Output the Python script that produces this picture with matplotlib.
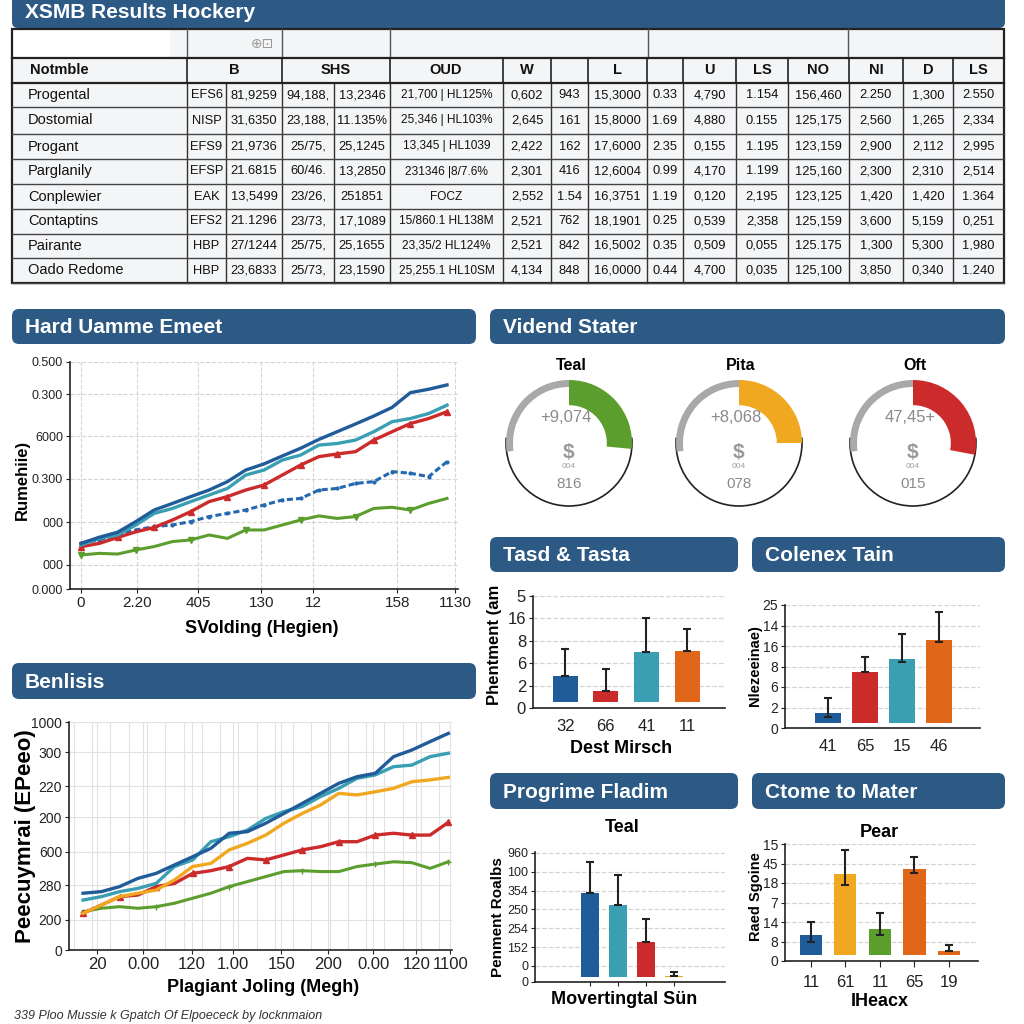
import matplotlib.pyplot as plt
from matplotlib.patches import FancyBboxPatch, Rectangle, Wedge, Arc

plt.rcParams['font.family'] = ['Liberation Sans', 'DejaVu Sans']

HEAD = '#2d5a84'
NAVY = '#1f5c99'
TEAL = '#3a9fb3'
RED = '#cc2b2b'
GREEN = '#5c9e2e'
ORANGE = '#e0661a'
YELLOW = '#f0a820'
BLUE = '#2468b0'

# ---------------- data ----------------
title = 'XSMB Results Hockery'
table_header = ['Notmble', 'B', 'SHS', 'OUD', 'W', '', 'L', '', 'U', 'LS', 'NO', 'NI', 'D', 'LS']
row_names = ['Progental', 'Dostomial', 'Progant', 'Parglanily', 'Conplewier', 'Contaptins', 'Pairante', 'Oado Redome']
table_rows = [
    ['EFS6', '81,9259', '94,188,', '13,2346', '21,700 | HL125%', '0,602', '943', '15,3000', '0.33', '4,790', '1.154', '156,460', '2.250', '1,300', '2.550'],
    ['NISP', '31,6350', '23,188,', '11.135%', '25,346 | HL103%', '2,645', '161', '15,8000', '1.69', '4,880', '0.155', '125,175', '2,560', '1,265', '2,334'],
    ['EFS9', '21,9736', '25/75,', '25,1245', '13,345 | HL1039', '2,422', '162', '17,6000', '2.35', '0,155', '1.195', '123,159', '2,900', '2,112', '2,995'],
    ['EFSP', '21.6815', '60/46.', '13,2850', '231346 |8/7.6%', '2,301', '416', '12,6004', '0.99', '4,170', '1.199', '125,160', '2,300', '2,310', '2,514'],
    ['EAK', '13,5499', '23/26,', '251851', 'FOCZ', '2,552', '1.54', '16,3751', '1.19', '0,120', '2,195', '123,125', '1,420', '1,420', '1.364'],
    ['EFS2', '21.1296', '23/73,', '17,1089', '15/860.1 HL138M', '2,521', '762', '18,1901', '0.25', '0,539', '2,358', '125,159', '3,600', '5,159', '0,251'],
    ['HBP', '27/1244', '25/75,', '25,1655', '23,35/2 HL124%', '2,521', '842', '16,5002', '0.35', '0,509', '0,055', '125.175', '1,300', '5,300', '1,980'],
    ['HBP', '23,6833', '25/73,', '23,1590', '25,255.1 HL10SM', '4,134', '848', '16,0000', '0.44', '4,700', '0,035', '125,100', '3,850', '0,340', '1.240'],
]

panel_titles = ['Hard Uamme Emeet', 'Vidend Stater', 'Tasd & Tasta', 'Colenex Tain',
                'Benlisis', 'Progrime Fladim', 'Ctome to Mater']

# line chart 1
hard_x = list(range(0, 101, 5))
hard_navy = [0.201, 0.228, 0.250, 0.297, 0.348, 0.377, 0.407, 0.436, 0.473, 0.524, 0.551,
             0.586, 0.620, 0.659, 0.693, 0.727, 0.762, 0.800, 0.865, 0.880, 0.899]
hard_teal = [0.194, 0.223, 0.238, 0.282, 0.333, 0.355, 0.385, 0.414, 0.443, 0.502, 0.524,
             0.568, 0.590, 0.634, 0.641, 0.656, 0.693, 0.737, 0.751, 0.773, 0.810]
hard_red = [0.186, 0.201, 0.227, 0.252, 0.271, 0.304, 0.341, 0.385, 0.407, 0.436, 0.458,
            0.502, 0.546, 0.583, 0.595, 0.605, 0.656, 0.693, 0.729, 0.751, 0.781]
hard_blue = [0.201, 0.216, 0.238, 0.260, 0.275, 0.282, 0.297, 0.319, 0.333, 0.348, 0.370,
             0.392, 0.399, 0.436, 0.443, 0.465, 0.473, 0.517, 0.510, 0.495, 0.561]
hard_green = [0.150, 0.157, 0.154, 0.172, 0.187, 0.209, 0.216, 0.238, 0.223, 0.260, 0.260,
              0.282, 0.304, 0.322, 0.311, 0.319, 0.355, 0.360, 0.348, 0.377, 0.399]
hard_xticks = [0, 15.2, 32, 49.3, 63.4, 86.4, 102.2]
hard_xlabels = ['0', '2.20', '405', '130', '12', '158', '1130']
hard_yticks = [0, 0.106, 0.295, 0.485, 0.674, 0.859, 1.0]
hard_ylabels = ['0.000', '000', '000', '0.300', '6000', '0.300', '0.500']

# line chart 2
ben_x = list(range(21))
ben_navy = [0.249, 0.256, 0.278, 0.314, 0.336, 0.373, 0.409, 0.446, 0.512, 0.519, 0.556,
            0.599, 0.643, 0.687, 0.731, 0.760, 0.775, 0.848, 0.877, 0.914, 0.950]
ben_teal = [0.219, 0.234, 0.256, 0.270, 0.292, 0.366, 0.395, 0.475, 0.497, 0.526, 0.577,
            0.607, 0.629, 0.673, 0.709, 0.753, 0.768, 0.804, 0.811, 0.848, 0.863]
ben_orange = [0.161, 0.197, 0.234, 0.249, 0.263, 0.307, 0.366, 0.380, 0.439, 0.468, 0.504,
              0.556, 0.599, 0.636, 0.687, 0.680, 0.694, 0.709, 0.738, 0.746, 0.757]
ben_red = [0.161, 0.197, 0.234, 0.241, 0.278, 0.292, 0.336, 0.348, 0.366, 0.402, 0.395,
           0.417, 0.439, 0.453, 0.475, 0.475, 0.504, 0.512, 0.504, 0.504, 0.560]
ben_green = [0.168, 0.183, 0.190, 0.183, 0.190, 0.205, 0.227, 0.249, 0.278, 0.300, 0.322,
             0.344, 0.348, 0.344, 0.344, 0.366, 0.377, 0.387, 0.383, 0.358, 0.387]
ben_xticks = [0.77, 3.29, 5.97, 8.22, 10.85, 13.42, 15.89, 18.25, 20.1]
ben_xlabels = ['20', '0.00', '120', '1.00', '150', '200', '0.00', '120', '1100']
ben_yticks = [0, 0.132, 0.285, 0.430, 0.583, 0.719, 0.868, 1.0]
ben_ylabels = ['0', '200', '280', '600', '200', '220', '300', '1000']

# gauges
gauge_names = ['Teal', 'Pita', 'Oft']
gauge_top = ['+9,074', '+8,068', '47,45+']
gauge_bottom = ['816', '078', '015']
gauge_fill = [0.53, 0.50, 0.56]
gauge_colors = [GREEN, YELLOW, RED]

# bar charts
tasd_labels = ['32', '66', '41', '11']
tasd_vals = [1.44, 0.77, 2.49, 2.56]
tasd_err = [1.18, 0.97, 1.51, 0.97]
tasd_ylabels = ['0', '2', '6', '8', '16', '5']

col_labels = ['41', '65', '15', '46']
col_vals = [0.75, 2.75, 3.37, 4.29]
col_err_up = [0.70, 0.70, 1.20, 1.35]
col_err_dn = [0.20, 0.0, 0.15, 0.10]
col_ylabels = ['0', '2', '6', '8', '16', '14', '25']

prog_vals = [4.75, 4.09, 2.12, 0.32]
prog_err = [1.64, 1.59, 1.20, 0.19]
prog_yticks = [0, 0.85, 1.85, 2.85, 3.85, 4.85, 5.85, 6.85]
prog_ylabels = ['0', '0', '152', '254', '250', '354', '100', '960']

ctome_labels = ['11', '61', '11', '65', '19']
ctome_vals = [1.33, 4.44, 1.62, 4.72, 0.51]
ctome_err_up = [0.65, 1.25, 0.86, 0.60, 0.31]
ctome_err_dn = [0.34, 0.54, 0.30, 0.20, 0.0]
ctome_ylabels = ['0', '8', '14', '7', '18', '45', '15']

# ---------------- figure ----------------
fig = plt.figure(figsize=(10.24, 10.24), dpi=100)
fig.patch.set_facecolor('white')
bg = fig.add_axes([0, 0, 1, 1])
bg.set_xlim(0, 1024)
bg.set_ylim(1024, 0)
bg.axis('off')


def px_axes(l, t, r, b):
    return fig.add_axes([l / 1024, 1 - b / 1024, (r - l) / 1024, (b - t) / 1024])


def header(l, t, r, b, text):
    bg.add_patch(FancyBboxPatch((l, t), r - l, b - t, boxstyle='round,pad=0,rounding_size=7',
                                fc=HEAD, ec='none'))
    bg.text(l + 13, (t + b) / 2 + 1, text, color='white', fontsize=15, fontweight='bold', va='center')


# title bar
bg.add_patch(FancyBboxPatch((12, -10), 993, 38, boxstyle='round,pad=0,rounding_size=6', fc=HEAD, ec='none'))
bg.text(25, 12, title, color='white', fontsize=15, fontweight='bold', va='center')

# ---------------- table ----------------
bg.add_patch(Rectangle((12, 29), 992, 254, fc='#f4f5f6', ec='none'))
bg.add_patch(Rectangle((12, 29), 158, 29, fc='white', ec='none'))
bg.text(262, 44, '⊕⊡', color='#9a9a9a', fontsize=10, ha='center', va='center', family='DejaVu Sans')

row_y = [58, 83, 107, 134, 159, 184, 209, 234, 258, 283]
bounds = [12, 187, 226, 282, 334, 390, 503, 551, 588, 647, 683, 736, 788, 849, 903, 953, 1004]
for x in [187, 282, 390, 648, 848]:
    bg.plot([x, x], [29, 58], color='#555', lw=1)
for x in [187, 282, 390, 503, 551, 588, 647, 683, 736, 788, 849, 903, 953]:
    bg.plot([x, x], [58, 83], color='#222', lw=1.2)
for x in bounds[1:-1]:
    bg.plot([x, x], [83, 283], color='#333', lw=1)
for i, y in enumerate(row_y):
    bg.plot([12, 1004], [y, y], color='#222' if i < 2 else '#444', lw=1.6 if i < 2 else 1)
bg.add_patch(Rectangle((12, 29), 992, 254, fc='none', ec='#222', lw=1.6))

hy = (row_y[0] + row_y[1]) / 2
head_x = [30, 234, 336, 446, 527, 569, 617, 665, 709, 762, 818, 876, 928, 978]
for i, h in enumerate(table_header):
    bg.text(head_x[i], hy, h, fontsize=10.5, fontweight='bold', ha='left' if i == 0 else 'center',
            va='center', color='#111')

for r, name in enumerate(row_names):
    yc = (row_y[r + 1] + row_y[r + 2]) / 2
    bg.text(28, yc, name, fontsize=10.5, va='center', color='#111')
    for c, val in enumerate(table_rows[r]):
        if c == 4 and val == 'FOCZ':
            xc = (bounds[5] + bounds[6]) / 2
        else:
            xc = (bounds[c + 1] + bounds[c + 2]) / 2
        bg.text(xc, yc, val, fontsize=9.3 if c != 4 else 8.6, ha='center', va='center', color='#111')

# ---------------- panel headers ----------------
header(12, 309, 476, 344, panel_titles[0])
header(490, 309, 1005, 344, panel_titles[1])
header(490, 537, 738, 572, panel_titles[2])
header(752, 537, 1005, 572, panel_titles[3])
header(12, 663, 476, 699, panel_titles[4])
header(490, 773, 738, 809, panel_titles[5])
header(752, 773, 1005, 809, panel_titles[6])


def style(ax):
    for s in ['top', 'right']:
        ax.spines[s].set_visible(False)
    for s in ['left', 'bottom']:
        ax.spines[s].set_color('#222')
        ax.spines[s].set_linewidth(1.2)
    ax.tick_params(colors='#222', length=3, pad=2)
    ax.set_facecolor('none')


# ---------------- line chart 1 ----------------
ax1 = px_axes(70, 362, 458, 589)
style(ax1)
ax1.plot(hard_x, hard_green, color=GREEN, lw=2.2, marker='v', ms=4, markevery=3)
ax1.plot(hard_x, hard_blue, color=BLUE, lw=2.2, ls=(0, (2, 1)), marker='.', ms=4)
ax1.plot(hard_x, hard_red, color=RED, lw=2.4, marker='^', ms=5, markevery=2)
ax1.plot(hard_x, hard_teal, color=TEAL, lw=2.4)
ax1.plot(hard_x, hard_navy, color=NAVY, lw=2.4)
ax1.set_xlim(-3, 103)
ax1.set_ylim(0, 1)
ax1.set_xticks(hard_xticks)
ax1.set_xticklabels(hard_xlabels, fontsize=11)
ax1.set_yticks(hard_yticks)
ax1.set_yticklabels(hard_ylabels, fontsize=9)
ax1.grid(True, ls='--', color='#d5d5d5', lw=0.8)
ax1.set_xlabel('SVolding (Hegien)', fontsize=13, fontweight='bold')
ax1.xaxis.set_label_coords(0.495, -0.137)
ax1.set_ylabel('Rumehiie)', fontsize=12, fontweight='bold')
ax1.yaxis.set_label_coords(-0.103, 0.48)

# ---------------- gauges ----------------
# background axis has y inverted, so visual angle = -data angle
centers = [569, 739, 913]
gr = 63
gy = 443
for i, cx in enumerate(centers):
    end = 90 - 180 * gauge_fill[i]
    bg.add_patch(Arc((cx, gy), 2 * gr, 2 * gr, theta1=-5, theta2=185, color='#222', lw=1.2))
    bg.add_patch(Wedge((cx, gy), gr, -188, -90, width=7, fc='#a9a9a9', ec='none'))
    bg.add_patch(Wedge((cx, gy), gr, -90, -end, width=0.4 * gr, fc=gauge_colors[i], ec='none'))
    bg.text(cx + 2, 366, gauge_names[i], fontsize=11.5, fontweight='bold', ha='center', va='center')
    bg.text(cx - 3, 418, gauge_top[i], fontsize=12, color='#8a8a8a', ha='center', va='center')
    bg.text(cx, 452, '$', fontsize=15, fontweight='bold', color='#9a9a9a', ha='center', va='center')
    bg.text(cx, 466, '004', fontsize=6, color='#a0a0a0', ha='center', va='center')
    bg.text(cx, 484, gauge_bottom[i], fontsize=11, color='#8a8a8a', ha='center', va='center')

# ---------------- bar chart: Tasd & Tasta ----------------
err_kw = dict(ecolor='#222', elinewidth=1.5, capsize=3, capthick=1.5)
axb1 = px_axes(533, 596, 725, 708)
style(axb1)
base = 0.25
axb1.bar(range(4), [v - base for v in tasd_vals], bottom=base, width=0.62,
         color=[NAVY, RED, TEAL, ORANGE], yerr=[[0] * 4, tasd_err], error_kw=err_kw, zorder=3)
axb1.set_xlim(-0.79, 3.93)
axb1.set_ylim(0, 5)
axb1.set_xticks(range(4))
axb1.set_xticklabels(tasd_labels, fontsize=12)
axb1.tick_params(axis='x', length=0, pad=8)
axb1.set_yticks(range(6))
axb1.set_yticklabels(tasd_ylabels, fontsize=12)
axb1.grid(True, axis='y', ls='--', color='#d5d5d5', lw=0.9)
axb1.set_ylabel('Phentment (am', fontsize=12, fontweight='bold')
axb1.yaxis.set_label_coords(-0.161, 0.56)
axb1.set_xlabel('Dest Mirsch', fontsize=13, fontweight='bold')
axb1.xaxis.set_label_coords(0.46, -0.286)

# ---------------- bar chart: Colenex Tain ----------------
axb2 = px_axes(785, 605, 980, 728)
style(axb2)
base = 0.26
axb2.bar(range(4), [v - base for v in col_vals], bottom=base, width=0.68,
         color=[NAVY, RED, TEAL, ORANGE], yerr=[col_err_dn, col_err_up], error_kw=err_kw, zorder=3)
axb2.set_xlim(-1.16, 4.11)
axb2.set_ylim(0, 6)
axb2.set_xticks(range(4))
axb2.set_xticklabels(col_labels, fontsize=12)
axb2.tick_params(axis='x', length=0, pad=8)
axb2.set_yticks(range(7))
axb2.set_yticklabels(col_ylabels, fontsize=10)
axb2.grid(True, axis='y', ls='--', color='#d5d5d5', lw=0.9)
axb2.set_ylabel('Nlezeeinae)', fontsize=10.5, fontweight='bold')
axb2.yaxis.set_label_coords(-0.118, 0.51)

# ---------------- line chart 2 ----------------
ax2 = px_axes(69, 722, 452, 950)
style(ax2)
ax2.plot(ben_x, ben_green, color=GREEN, lw=2.2, marker='+', ms=5, markevery=4)
ax2.plot(ben_x, ben_red, color=RED, lw=2.4, marker='^', ms=5, markevery=2)
ax2.plot(ben_x, ben_orange, color=YELLOW, lw=2.4)
ax2.plot(ben_x, ben_teal, color=TEAL, lw=2.4)
ax2.plot(ben_x, ben_navy, color=NAVY, lw=2.4)
ax2.set_xlim(-0.77, 20.2)
ax2.set_ylim(0, 1)
ax2.set_xticks(ben_xticks)
ax2.set_xticklabels(ben_xlabels, fontsize=12)
ax2.set_xticks([i + 0.5 for i in range(-1, 20)], minor=True)
ax2.tick_params(axis='x', which='minor', length=0)
ax2.set_yticks(ben_yticks)
ax2.set_yticklabels(ben_ylabels, fontsize=10)
ax2.grid(True, which='both', color='#e2e2e2', lw=0.8)
ax2.set_xlabel('Plagiant Joling (Megh)', fontsize=13, fontweight='bold')
ax2.xaxis.set_label_coords(0.507, -0.127)
ax2.set_ylabel('Peecuymrai (EPeeo)', fontsize=16, fontweight='bold')
ax2.yaxis.set_label_coords(-0.086, 0.5)

# ---------------- bar chart: Progrime Fladim ----------------
axb3 = px_axes(535, 852, 725, 982)
style(axb3)
base = 0.26
axb3.bar(range(4), [v - base for v in prog_vals], bottom=base, width=0.65,
         color=[NAVY, TEAL, RED, YELLOW], yerr=[[0] * 4, prog_err], error_kw=err_kw, zorder=3)
axb3.set_xlim(-1.96, 4.82)
axb3.set_ylim(0, 6.9)
axb3.set_xticks(range(4))
axb3.set_xticklabels([''] * 4)
axb3.set_yticks(prog_yticks)
axb3.set_yticklabels(prog_ylabels, fontsize=9)
axb3.grid(True, axis='y', ls='--', color='#d5d5d5', lw=0.9)
axb3.text(0.46, 1.19, 'Teal', transform=axb3.transAxes, fontsize=13, fontweight='bold', ha='center', va='center')
axb3.set_ylabel('Penment Roalbs', fontsize=11, fontweight='bold')
axb3.yaxis.set_label_coords(-0.158, 0.5)
axb3.set_xlabel('Movertingtal Sün', fontsize=13, fontweight='bold')
axb3.xaxis.set_label_coords(0.47, -0.07)

# ---------------- bar chart: Ctome to Mater ----------------
axb4 = px_axes(785, 844, 978, 961)
style(axb4)
base = 0.3
axb4.bar(range(5), [v - base for v in ctome_vals], bottom=base, width=0.64,
         color=[NAVY, YELLOW, GREEN, ORANGE, ORANGE], yerr=[ctome_err_dn, ctome_err_up],
         error_kw=err_kw, zorder=3)
axb4.set_xlim(-0.75, 4.84)
axb4.set_ylim(0, 6)
axb4.set_xticks(range(5))
axb4.set_xticklabels(ctome_labels, fontsize=12)
axb4.tick_params(axis='x', length=4, pad=6)
axb4.set_yticks(range(7))
axb4.set_yticklabels(ctome_ylabels, fontsize=10)
axb4.grid(True, axis='y', ls='--', color='#d5d5d5', lw=0.9)
axb4.text(0.49, 1.1, 'Pear', transform=axb4.transAxes, fontsize=13, fontweight='bold', ha='center', va='center')
axb4.set_ylabel('Raed Sgoine', fontsize=10.5, fontweight='bold')
axb4.yaxis.set_label_coords(-0.114, 0.55)
axb4.set_xlabel('IHeacx', fontsize=13, fontweight='bold')
axb4.xaxis.set_label_coords(0.49, -0.27)

# footer
bg.text(14, 1016, '339 Ploo Mussie k Gpatch Of Elpoececk by locknmaion', fontsize=9,
        style='italic', color='#333', va='center')

fig.savefig('out.png', dpi=100)
